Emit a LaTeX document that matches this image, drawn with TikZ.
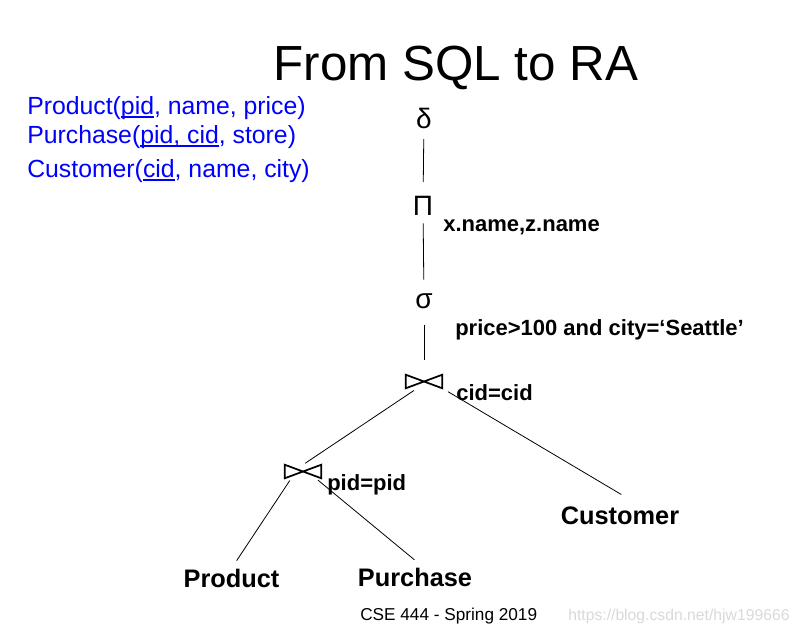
\documentclass[tikz,border=0pt]{standalone}
\usepackage{fontspec}
\setmainfont{Liberation Sans}
\usetikzlibrary{calc}

\newcommand{\fsz}[1]{\fontsize{#1}{#1}\selectfont}
\newcommand{\keyul}[1]{\setbox0\hbox{#1}\rlap{\rule[-3pt]{\wd0}{1.3pt}}\box0}

\begin{document}
\begin{tikzpicture}[
  x=0.75pt, y=-0.75pt,
  title/.style={font=\fsz{37}, anchor=base, inner sep=0pt},
  schema/.style={font=\fsz{18.6}, text=blue, anchor=base west, inner sep=0pt},
  op/.style={font=\fsz{21}, anchor=base, inner sep=0pt},
  cond/.style={font=\fsz{16.5}\bfseries, anchor=base west, inner sep=0pt},
  rel/.style={font=\fsz{19}\bfseries, anchor=base, inner sep=0pt},
  joinbox/.style={minimum width=27pt, minimum height=9.75pt, inner sep=0pt},
  edge/.style={line width=0.6pt},
  vedge/.style={edge, shorten <=8pt, shorten >=10pt},
]
\useasboundingbox (0,0) rectangle (801,637);

% Title and schema
\node[title] (ttl) at (456, 80) {From SQL to RA};
\node[schema] (s1) at (27, 114) {Product(\keyul{pid}, name, price)};
\node[schema] (s2) at (27, 143) {Purchase(\keyul{pid, cid}, store)};
\node[schema] (s3) at (27, 177) {Customer(\keyul{cid}, name, city)};

% Operators
\node[op] (dup) at (424, 128) {δ};
\node[op] (proj) at (423, 215) {Π};
\node[cond] at (443, 231) {x.name,z.name};
\node[op] (sel) at (424, 308) {σ};
\node[cond] at (455, 335) {price>100 and city=‘Seattle’};
\node[joinbox] (j1) at (424, 381.5) {};
\node[cond] at (456, 400) {cid=cid};
\node[joinbox] (j2) at (303, 471.5) {};
\node[cond] at (327, 490) {pid=pid};
\foreach \j in {j1, j2}
  \draw[line width=1.3pt, line join=miter] (\j.north west) -- (\j.south east) -- (\j.north east) -- (\j.south west) -- cycle;

% Relations
\node[rel] (prod) at (231.5, 587) {Product};
\node[rel] (purch) at (415, 586) {Purchase};
\node[rel] (cust) at (620, 524) {Customer};

% Edges
\draw[vedge] (dup) -- (proj);
\draw[vedge, shorten <=6pt] (proj) -- (sel);
\draw[vedge, shorten <=12pt, shorten >=11pt] (sel) -- (j1);
\draw[edge, shorten <=3pt, shorten >=2pt] (j1.-135) -- (j2.north);
\draw[edge, shorten <=5pt, shorten >=17pt] (j1.south east) -- ($(cust.north)!0.35!(cust.north east)$);
\draw[edge, shorten <=2pt, shorten >=7pt] (j2.-150) -- (prod.north);
\draw[edge, shorten <=2pt, shorten >=9pt] (j2.-28) -- ($(purch.north)!0.15!(purch.north east)$);

% Footer
\node[font=\fsz{12.9}, anchor=base west, inner sep=0pt] (foot) at (360, 620) {CSE 444 - Spring 2019};
\node[font=\fsz{11.8}, text=gray!30, anchor=base west, inner sep=0pt] (wm) at (568, 620) {https://blog.csdn.net/hjw199666};

\end{tikzpicture}
\end{document}
